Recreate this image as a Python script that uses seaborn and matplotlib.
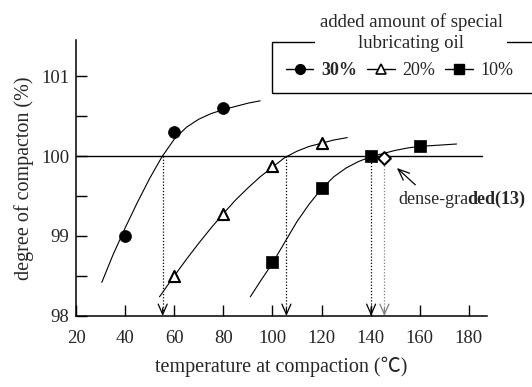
import numpy as np
import pandas as pd
import matplotlib
matplotlib.use("Agg")
import matplotlib.pyplot as plt
import seaborn as sns
from matplotlib.lines import Line2D
from matplotlib.patches import Rectangle
from matplotlib.ticker import MultipleLocator

# ---- measured points ----
temp_30 = [40, 60, 80]
deg_30 = [99.0, 100.3, 100.6]
temp_20 = [60, 80, 100, 120]
deg_20 = [98.5, 99.28, 99.88, 100.16]
temp_10 = [100, 120, 140, 160]
deg_10 = [98.67, 99.6, 100.0, 100.13]
temp_dense = [145.5]
deg_dense = [99.98]

# ---- fitted curves ----
curve_x_30 = [30.5, 35, 40, 45, 50, 55, 60, 65, 70, 75, 80, 85, 90, 95]
curve_y_30 = [98.42, 98.76, 99.10, 99.42, 99.72, 99.99, 100.21, 100.36, 100.46,
              100.53, 100.58, 100.62, 100.66, 100.69]
curve_x_20 = [54, 60, 65, 70, 75, 80, 85, 90, 95, 100, 105, 110, 115, 120, 125, 130.5]
curve_y_20 = [98.24, 98.50, 98.71, 98.91, 99.10, 99.28, 99.45, 99.60, 99.74,
              99.86, 99.98, 100.06, 100.12, 100.16, 100.20, 100.23]
curve_x_10 = [91, 95, 100, 105, 110, 115, 120, 125, 130, 135, 140, 145, 150,
              155, 160, 165, 170, 175]
curve_y_10 = [98.24, 98.43, 98.66, 98.92, 99.18, 99.40, 99.59, 99.74, 99.85,
              99.93, 99.99, 100.03, 100.07, 100.10, 100.12, 100.13, 100.14, 100.15]

# temperatures where 100 % compaction is reached
cross_temps = [55.3, 105.7, 140.2, 145.6]
cross_colors = ["black", "black", "black", "#808080"]

legend_labels = ["30%", "20%", "10%"]
x_ticks = [20, 40, 60, 80, 100, 120, 140, 160, 180]
y_ticks = [98, 99, 100, 101]

sns.set_style("ticks")
plt.rcParams["font.family"] = ["Liberation Serif", "Noto Sans CJK JP", "DejaVu Sans"]
plt.rcParams["font.size"] = 13.5

FS = 13.5
FS_LEG = 13
FS_LAB = 14.5

fig = plt.figure(figsize=(5.32, 3.87), dpi=100)
ax = fig.add_axes([0.1429, 0.1835, 0.7725, 0.7131])

for cx, cy in [(curve_x_30, curve_y_30), (curve_x_20, curve_y_20), (curve_x_10, curve_y_10)]:
    sns.lineplot(x=cx, y=cy, ax=ax, color="black", lw=0.8, sort=False,
                 estimator=None, zorder=2)

ax.axhline(100, xmin=0, xmax=0.988, color="black", lw=1.0, zorder=2)

sns.scatterplot(x=temp_30, y=deg_30, ax=ax, marker="o", s=74, color="black",
                edgecolor="black", linewidth=0.5, zorder=4)
sns.scatterplot(x=temp_20, y=deg_20, ax=ax, marker="^", s=64, color="white",
                edgecolor="black", linewidth=1.5, zorder=4)
sns.scatterplot(x=temp_10, y=deg_10, ax=ax, marker="s", s=70, color="black",
                edgecolor="black", linewidth=0.5, zorder=4)
sns.scatterplot(x=temp_dense, y=deg_dense, ax=ax, marker="D", s=42, color="white",
                edgecolor="black", linewidth=1.5, zorder=5)

for xc, col in zip(cross_temps, cross_colors):
    ax.plot([xc, xc], [100, 98.05], ls=(0, (1, 1.5)), lw=0.9, color=col, zorder=1)
    ax.annotate("", xy=(xc, 98.0), xytext=(xc, 98.1),
                arrowprops=dict(arrowstyle="->,head_length=0.55,head_width=0.24",
                                lw=0.9, color=col, shrinkA=0, shrinkB=0))

# dense-graded annotation
ax.annotate("", xy=(150.7, 99.85), xytext=(158.2, 99.64),
            arrowprops=dict(arrowstyle="->,head_length=0.6,head_width=0.25",
                            lw=0.9, color="black", shrinkA=0, shrinkB=0))
t1 = ax.text(151.3, 99.46, "dense-gra", ha="left", va="center", fontsize=FS_LEG)
ax.annotate("ded(13)", xy=(1, 0), xycoords=t1, xytext=(-0.8, 0),
            textcoords="offset points", ha="left", va="bottom",
            fontsize=FS_LEG, fontweight="bold")

ax.set_xlim(20, 187.4)
ax.set_ylim(98, 101.45)
ax.set_xticks(x_ticks)
ax.set_yticks(y_ticks)
ax.yaxis.set_minor_locator(MultipleLocator(0.5))
ax.tick_params(axis="both", which="both", direction="in", length=7.7, width=1.0,
               labelsize=FS, color="black")
ax.tick_params(axis="x", pad=10)
ax.tick_params(axis="y", pad=5)
for s in ["top", "right"]:
    ax.spines[s].set_visible(False)
for s in ["left", "bottom"]:
    ax.spines[s].set_linewidth(1.1)
    ax.spines[s].set_color("black")

ax.set_xlabel("temperature at compaction (℃)", fontsize=FS_LAB, labelpad=7)
ax.set_ylabel("degree of compacton (%)", fontsize=FS_LAB, labelpad=5)

# legend
handles = [
    Line2D([], [], color="black", lw=1, marker="o", markersize=7),
    Line2D([], [], color="black", lw=1, marker="^", markersize=7,
           markerfacecolor="white", markeredgewidth=1.2),
    Line2D([], [], color="black", lw=1, marker="s", markersize=7),
]
leg = ax.legend(handles, legend_labels, ncol=3, frameon=False, loc="center",
                bbox_to_anchor=(400 / 532, 1 - 70.7 / 387),
                bbox_transform=fig.transFigure, fontsize=FS_LEG, handlelength=1.5,
                handletextpad=0.45, columnspacing=0.55, borderpad=0)
leg.get_texts()[0].set_fontweight("bold")

fig.add_artist(Rectangle((272 / 532, 1 - 93.3 / 387), 0.55, (93.3 - 41.7) / 387,
                         transform=fig.transFigure, fill=False, lw=1.0,
                         ec="black", clip_on=False, zorder=1))
fig.text(411 / 532, 1 - 32.5 / 387, "added amount of special\nlubricating oil",
         ha="center", va="center", fontsize=FS, linespacing=1.25, zorder=3,
         bbox=dict(fc="white", ec="none", pad=3))

fig.savefig("out.png", dpi=100)
